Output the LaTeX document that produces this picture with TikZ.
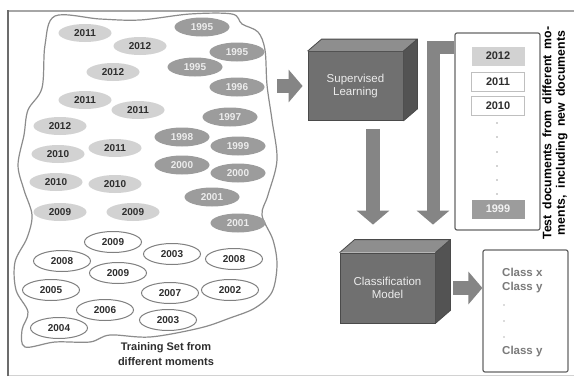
\documentclass[tikz,border=0pt]{standalone}
\usepackage{fontspec}
\setmainfont{Liberation Sans}
\usetikzlibrary{shapes.geometric,arrows.meta}
\definecolor{lightfill}{HTML}{D2D2D2}
\definecolor{darkfill}{HTML}{9C9C9C}
\definecolor{ellborder}{HTML}{808080}
\definecolor{blobline}{HTML}{8C8C8C}
\definecolor{arrowgray}{HTML}{858585}
\definecolor{frontgray}{HTML}{707070}
\definecolor{topgray}{HTML}{8E8E8E}
\definecolor{sidegray}{HTML}{535353}
\definecolor{edgegray}{HTML}{4A4A4A}
\definecolor{yeartext}{HTML}{2E2E2E}
\definecolor{classtext}{HTML}{7A7A7A}
\begin{document}
\begin{tikzpicture}[x=1pt,y=-1pt,
  yearfont/.style={font=\bfseries\fontsize{10}{11}\selectfont},
  lightyr/.style={ellipse, fill=lightfill, minimum width=53pt, minimum height=18pt, inner sep=0pt, yearfont, text=yeartext},
  darkyr/.style={ellipse, fill=darkfill, minimum width=55pt, minimum height=19pt, inner sep=0pt, yearfont, text=white!85!gray},
  whiteyr/.style={ellipse, draw=ellborder, line width=1pt, fill=white, minimum width=57pt, minimum height=21pt, inner sep=0pt, yearfont, text=yeartext},
  cubefront/.style={rectangle, fill=frontgray, draw=edgegray, line width=0.8pt, minimum width=95pt, minimum height=69pt, inner sep=0pt, align=center, text=white!85!gray, font=\fontsize{11.5}{13}\selectfont},
  blockarrow/.style={arrowgray, line width=14pt, line join=miter, -{Triangle[length=14pt,width=32pt]}},
  panel/.style={rectangle, draw=ellborder!80!black, line width=1.2pt, rounded corners=2pt, fill=white, inner sep=0pt},
  testyr/.style={rectangle, minimum width=53pt, minimum height=19pt, inner sep=0pt, font=\bfseries\fontsize{11}{13}\selectfont},
  classlbl/.style={anchor=west, inner sep=0pt, text=classtext, font=\bfseries\fontsize{11.5}{13}\selectfont},
  dotmark/.style={circle, fill=gray!70, inner sep=0pt, minimum size=1.6pt}
]
\useasboundingbox (0,0) rectangle (574,378);
\fill[white] (0,0) rectangle (574,378);
% frame
\draw[gray!70, line width=1.8pt] (8,11) -- (574,11);
\draw[gray!35, line width=1pt] (8,375) -- (574,375);
\draw[gray!85!black, line width=2.5pt] (8,376) -- (8,10);
% blob outline
\draw[blobline, line width=1.2pt] plot[smooth cycle, tension=0.55] coordinates {
 (55,16) (100,19) (140,20) (190,14) (232,14) (242,24) (258,32) (265,50) (267,85)
 (272,120) (277,160) (268,195) (262,215) (273,240) (277,265) (272,292) (255,308)
 (230,318) (200,328) (150,337) (110,335) (90,342) (55,342) (25,347) (22,330)
 (28,312) (16,290) (15,262) (27,238) (32,215) (24,190) (18,165) (24,135) (28,110)
 (42,88) (45,45)};
% light ellipses
\node[lightyr] (l1) at (85,33) {2011};
\node[lightyr] (l2) at (140,46) {2012};
\node[lightyr] (l3) at (113,72) {2012};
\node[lightyr] (l4) at (85,100) {2011};
\node[lightyr] (l5) at (138,110) {2011};
\node[lightyr] (l6) at (60,126) {2012};
\node[lightyr] (l7) at (58,154) {2010};
\node[lightyr] (l8) at (115,148) {2011};
\node[lightyr] (l9) at (56,182) {2010};
\node[lightyr] (l10) at (115,184) {2010};
\node[lightyr] (l11) at (60,212) {2009};
\node[lightyr] (l12) at (133,212) {2009};
% dark ellipses
\node[darkyr] (d1) at (202,27) {1995};
\node[darkyr] (d2) at (237,52) {1995};
\node[darkyr] (d3) at (195,67) {1995};
\node[darkyr] (d4) at (237,87) {1996};
\node[darkyr] (d5) at (230,117) {1997};
\node[darkyr] (d6) at (182,137) {1998};
\node[darkyr] (d7) at (238,146) {1999};
\node[darkyr] (d8) at (182,165) {2000};
\node[darkyr] (d9) at (238,173) {2000};
\node[darkyr] (d10) at (212,197) {2001};
\node[darkyr] (d11) at (238,223) {2001};
% white ellipses
\node[whiteyr] (w1) at (113,242) {2009};
\node[whiteyr] (w2) at (62,261) {2008};
\node[whiteyr] (w3) at (172,254) {2003};
\node[whiteyr] (w4) at (234,259) {2008};
\node[whiteyr] (w5) at (118,273) {2009};
\node[whiteyr] (w6) at (51,290) {2005};
\node[whiteyr] (w7) at (170,293) {2007};
\node[whiteyr] (w8) at (230,290) {2002};
\node[whiteyr] (w9) at (105,310) {2006};
\node[whiteyr] (w10) at (168,320) {2003};
\node[whiteyr] (w11) at (59,328) {2004};
\node[align=center, inner sep=0pt, font=\bfseries\fontsize{11}{15.5}\selectfont, text=yeartext] (train) at (166,354) {Training Set from\\different moments};
% supervised learning cube
\node[cubefront] (sup) at (355.5,86) {Supervised\\Learning};
\fill[topgray] (sup.north west) -- ++(14,-12) -- ([shift={(14,-12)}]sup.north east) -- (sup.north east) -- cycle;
\fill[sidegray] (sup.north east) -- ++(14,-12) -- ([shift={(14,-12)}]sup.south east) -- (sup.south east) -- cycle;
\draw[edgegray, line width=0.8pt] (sup.north west) -- ++(14,-12) -- ([shift={(14,-12)}]sup.north east) -- ([shift={(14,-12)}]sup.south east) -- (sup.south east) (sup.north east) -- ++(14,-12);
% classification model cube
\node[cubefront, minimum height=70pt] (cls) at (387.5,288) {Classification\\Model};
\fill[topgray] (cls.north west) -- ++(15,-13) -- ([shift={(15,-13)}]cls.north east) -- (cls.north east) -- cycle;
\fill[sidegray] (cls.north east) -- ++(15,-13) -- ([shift={(15,-13)}]cls.south east) -- (cls.south east) -- cycle;
\draw[edgegray, line width=0.8pt] (cls.north west) -- ++(15,-13) -- ([shift={(15,-13)}]cls.north east) -- ([shift={(15,-13)}]cls.south east) -- (cls.south east) (cls.north east) -- ++(15,-13);
% test documents panel
\node[panel, minimum width=85pt, minimum height=197pt] (test) at (497.5,131.5) {};
\node[testyr, fill=lightfill, text=yeartext] (t1) at (498,56) {2012};
\node[testyr, draw=gray!50, line width=1pt, text=yeartext] (t2) at (498,82) {2011};
\node[testyr, draw=gray!50, line width=1pt, text=yeartext] (t3) at (498,106) {2010};
\node[testyr, fill=darkfill, text=white!90!gray] (t4) at (498,209) {1999};
\foreach \yy [count=\i] in {123,137,152,166,180,194} \node[dotmark] (td\i) at (497,\yy) {};
\node[rotate=90, inner sep=0pt, align=center, font=\bfseries\fontsize{12.3}{13.5}\selectfont] (testlbl) at (555,133) {\makebox[213pt][s]{Test documents from different mo-}\\\makebox[204pt][s]{ments, including new documents}};
% output panel
\node[panel, minimum width=85pt, minimum height=122pt] (out) at (525.5,311) {};
\node[classlbl] (c1) at (502,272) {Class x};
\node[classlbl] (c2) at (502,288) {Class y};
\node[dotmark, fill=gray!55] (cd1) at (504,305) {};
\node[dotmark, fill=gray!55] (cd2) at (504,321) {};
\node[dotmark, fill=gray!55] (cd3) at (504,337) {};
\node[classlbl] (c3) at (502,352) {Class y};
% connectors
\coordinate (blobR) at (277,86);
\draw[blockarrow] (blobR) -- ([xshift=-5pt]sup.west);
\draw[blockarrow] ([shift={(17.5,8)}]sup.south) -- ([shift={(-14.5,-28)}]cls.north);
\draw[blockarrow, line width=13pt] ([yshift=-15pt]test.north west) -| ([shift={(45.5,-28)}]cls.north);
\draw[blockarrow] ([xshift=18pt]cls.east) -- (cls.east -| out.west);
\end{tikzpicture}
\end{document}
